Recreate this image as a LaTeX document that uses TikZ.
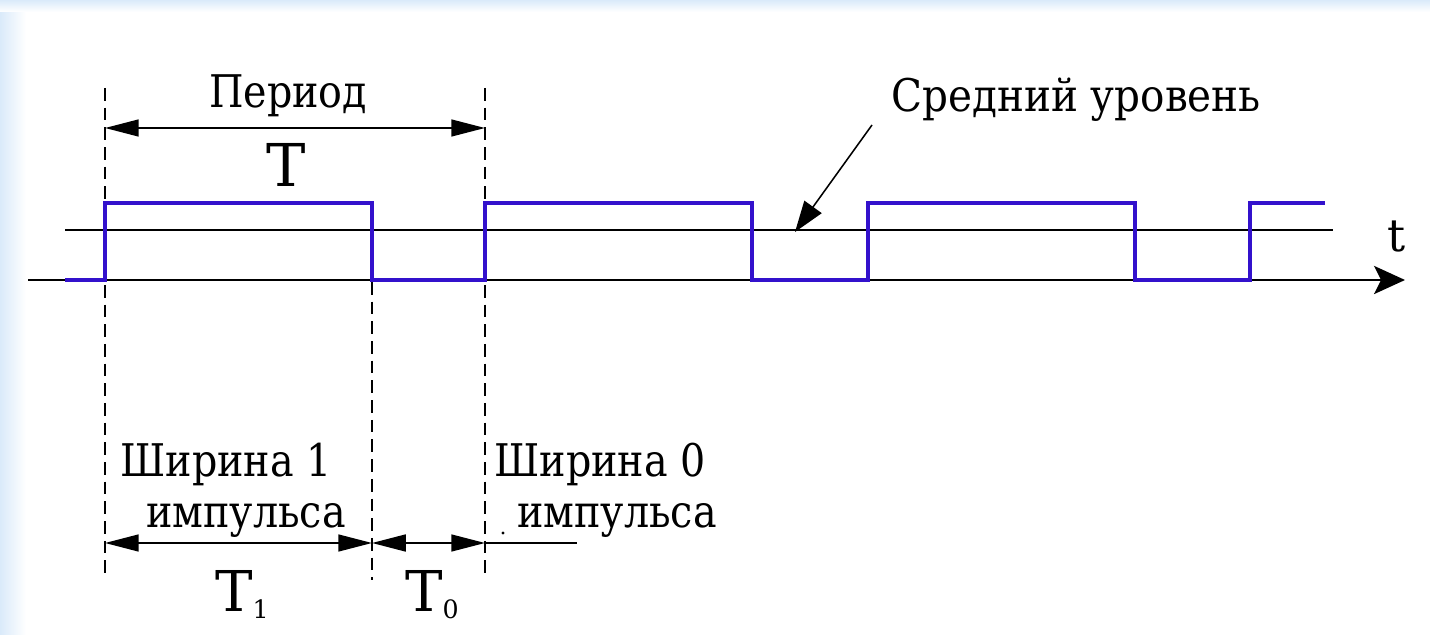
\documentclass[tikz,border=0pt]{standalone}
\usepackage{fontspec}
\setmainfont{DejaVu Serif}
\newfontfamily\labelfont{DejaVu Serif}
\usetikzlibrary{arrows.meta}
\definecolor{pulse}{RGB}{51,17,204}
\definecolor{edgeblue}{RGB}{218,234,250}
\tikzset{
    lbl/.style={font=\labelfont\fontsize{32}{36}\selectfont, inner sep=0pt, anchor=base},
    guide/.style={black, line width=1.7pt, dash pattern=on 9pt off 5pt},
    dim/.style={black, line width=1.4pt, {Triangle[length=24pt,width=12pt]}-{Triangle[length=24pt,width=12pt]}},
    level/.style={black, line width=1.9pt},
}
\newcommand{\tsub}[1]{T\raisebox{-0.12em}{\fontsize{18}{18}\selectfont #1}}
\newcommand{\narrow}[1]{\scalebox{0.88}[1]{#1}}
\begin{document}
\begin{tikzpicture}[x=0.025cm, y=-0.025cm]
                \useasboundingbox (0,0) rectangle (1430,635);
                \shade[left color=edgeblue, right color=white] (0,0) rectangle (26,635);
                \shade[top color=edgeblue, bottom color=white] (0,0) rectangle (1430,12);
                % Nodes
                \node[lbl] (per) at (288,108) {\narrow{Период}};
                \node[lbl, font=\labelfont\fontsize{42}{46}\selectfont] (T) at (286,187) {T};
                \node[lbl] (avg) at (1076,112) {\scalebox{0.9}[1]{Средний уровень}};
                \node[lbl] (t) at (1397,252) {t};
                \node[lbl] (w1) at (226,477) {\narrow{Ширина 1}};
                \node[lbl] (i1) at (246,528) {\narrow{импульса}};
                \node[lbl] (w0) at (600,477) {\narrow{Ширина 0}};
                \node[lbl] (i0) at (617,528) {\narrow{импульса}};
                \node[lbl, font=\labelfont\fontsize{40}{44}\selectfont] (T1) at (242,612) {\tsub{1}};
                \node[lbl, font=\labelfont\fontsize{40}{44}\selectfont] (T0) at (432,612) {\tsub{0}};
                % Coordinates
                \coordinate (a1) at (105,88);  \coordinate (a2) at (105,580);
                \coordinate (b1) at (372,282); \coordinate (b2) at (372,580);
                \coordinate (c1) at (485,88);  \coordinate (c2) at (485,580);
                \coordinate (pl) at (105,128); \coordinate (pr) at (485,128);
                \coordinate (dl) at (105,543); \coordinate (dm) at (372,543);
                \coordinate (dr) at (485,543); \coordinate (de) at (577,543);
                \coordinate (m1) at (65,230);  \coordinate (m2) at (1333,230);
                \coordinate (x1) at (28,280);  \coordinate (x2) at (1405,280);
                \coordinate (pt) at (872,125); \coordinate (pa) at (795,232);
                % Guides
                \draw[guide] (a1) -- (a2);
                \draw[guide] (b1) -- (b2);
                \draw[guide] (c1) -- (c2);
                % Levels
                \draw[level, -{Stealth[length=22pt,width=20pt,inset=5pt]}] (x1) -- (x2);
                \draw[level] (m1) -- (m2);
                % Pulses
                \draw[pulse, line width=3.5pt] (65,280) -- (105,280) -- (105,203) -- (372,203) -- (372,280)
                    -- (485,280) -- (485,203) -- (752,203) -- (752,280) -- (868,280) -- (868,203)
                    -- (1135,203) -- (1135,280) -- (1250,280) -- (1250,203) -- (1325,203);
                % Edges
                \draw[dim] (pl) -- (pr);
                \draw[dim] (dl) -- (dm);
                \draw[dim] (dm) -- (dr);
                \draw[black, line width=1.4pt] (dr) -- (de);
                \draw[black, line width=1.1pt, -{Triangle[length=22pt,width=15pt]}] (pt) -- (pa);
                \fill (503,533) circle (1.2pt);
\end{tikzpicture}
\end{document}
